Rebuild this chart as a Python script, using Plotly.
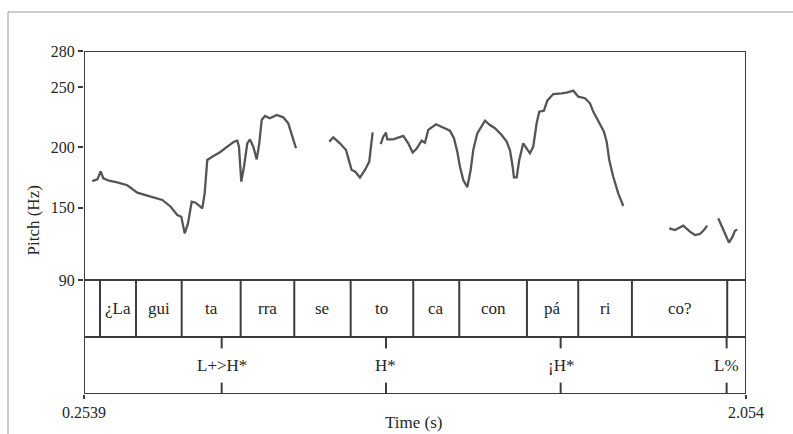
import plotly.graph_objects as go

# ---------------- data ----------------
seg1_t = [0.2765, 0.2901, 0.2993, 0.3064, 0.3219, 0.3444, 0.3716, 0.3988, 0.4353, 0.4668,
          0.4896, 0.5076, 0.5185, 0.5277, 0.5367, 0.5467, 0.5576, 0.5756, 0.5821, 0.5891,
          0.6027, 0.6256, 0.6435, 0.6617, 0.6707, 0.6753, 0.6816, 0.6889, 0.6979, 0.7052,
          0.7142, 0.7235, 0.7305, 0.7371, 0.7460, 0.7596, 0.7778, 0.7958, 0.8094, 0.8186, 0.8303]
seg1_hz = [172.1, 173.5, 180.0, 174.4, 172.4, 171.0, 168.6, 162.5, 159.1, 156.4,
           150.8, 143.9, 142.5, 128.7, 137.0, 155.0, 154.1, 149.5, 162.0, 189.6,
           192.3, 196.4, 200.6, 204.7, 205.6, 200.6, 171.6, 184.0, 203.4, 206.7,
           200.6, 190.1, 203.4, 222.8, 226.1, 224.2, 226.9, 225.0, 220.0, 211.7, 199.3]

seg2_t = [0.9209, 0.9317, 0.9499, 0.9663, 0.9752, 0.9817, 0.9907, 1.0043, 1.0179, 1.0296, 1.0342, 1.0388]
seg2_hz = [204.8, 208.4, 203.4, 197.9, 188.2, 181.3, 180.0, 175.0, 181.3, 188.2, 200.6, 212.5]

seg3_t = [1.0606, 1.0677, 1.0750, 1.0785, 1.0949, 1.1131, 1.1220, 1.1356, 1.1476, 1.1585,
          1.1721, 1.1810, 1.1900, 1.2110, 1.2265, 1.2490, 1.2599, 1.2689, 1.2762, 1.2852,
          1.2961, 1.3053, 1.3124, 1.3233, 1.3442, 1.3578, 1.3714, 1.3896, 1.4032, 1.4122,
          1.4195, 1.4230, 1.4304, 1.4374, 1.4483, 1.4576, 1.4665, 1.4755, 1.4847, 1.4918,
          1.5046, 1.5136, 1.5299, 1.5527, 1.5663, 1.5843, 1.5979, 1.6161, 1.6297, 1.6386,
          1.6522, 1.6677, 1.6751, 1.6821, 1.6930, 1.7066, 1.7202]
seg3_hz = [202.8, 208.9, 212.2, 206.7, 206.7, 208.9, 209.5, 203.4, 195.8, 199.0,
           205.6, 203.9, 214.5, 219.2, 217.2, 213.9, 207.6, 196.5, 184.0, 173.0,
           166.9, 181.3, 197.9, 211.7, 222.2, 218.6, 215.9, 210.3, 204.8, 197.9,
           184.0, 175.2, 175.2, 189.6, 203.4, 199.3, 195.1, 200.6, 220.0, 229.7,
           230.5, 238.8, 244.3, 244.9, 245.5, 247.1, 242.1, 240.8, 236.6, 229.7,
           221.4, 213.1, 204.8, 189.6, 175.7, 161.9, 151.4]

seg4_t = [1.8453, 1.8608, 1.8833, 1.9016, 1.9152, 1.9287, 1.9396, 1.9486]
seg4_hz = [132.9, 131.5, 135.1, 130.1, 127.3, 128.2, 131.5, 135.1]

seg5_t = [1.9785, 1.9877, 1.9986, 2.0076, 2.0176, 2.0239, 2.0302]
seg5_hz = [141.2, 134.2, 127.3, 121.0, 125.9, 130.9, 132.0]

t_start, t_end = 0.2539, 2.054
pitch_min, pitch_max = 90, 280
pitch_ticks = [90, 150, 200, 250, 280]

syllable_bounds = [0.2974, 0.3953, 0.5195, 0.6799, 0.8257, 0.9790, 1.1492,
                   1.2743, 1.4584, 1.5978, 1.7438, 2.0029]
syllable_labels = ["¿La", "gui", "ta", "rra", "se", "to", "ca", "con", "pá", "ri", "co?"]

tone_times = [0.6283, 1.0750, 1.5500, 2.0013]
tone_labels = ["L+>H*", "H*", "¡H*", "L%"]

# ---------------- figure ----------------
FONT = "Liberation Serif"
TXT = "#262626"
LINE = "#3c3c3c"
W, H = 793, 434

def py(p):  # pixel y -> paper y
    return (H - p) / H

xs, ys = [], []
for t, h in [(seg1_t, seg1_hz), (seg2_t, seg2_hz), (seg3_t, seg3_hz), (seg4_t, seg4_hz), (seg5_t, seg5_hz)]:
    xs += t + [None]
    ys += h + [None]

fig = go.Figure()
fig.add_trace(go.Scatter(x=xs, y=ys, mode="lines", xaxis="x", yaxis="y",
                         line=dict(color="#555555", width=2.3), connectgaps=False,
                         hoverinfo="skip", showlegend=False))

shapes = []
# outer light frame
shapes.append(dict(type="rect", xref="paper", yref="paper", x0=8 / W, x1=1.05, y0=-0.2, y1=py(12),
                   line=dict(color="#9a9a9a", width=1), layer="below"))
# pitch box
shapes.append(dict(type="rect", xref="x", yref="y", x0=t_start, x1=t_end, y0=pitch_min, y1=pitch_max,
                   line=dict(color=LINE, width=2)))
# tiers
shapes.append(dict(type="rect", xref="x", yref="y2", x0=t_start, x1=t_end, y0=1, y1=2,
                   line=dict(color=LINE, width=2)))
shapes.append(dict(type="rect", xref="x", yref="y2", x0=t_start, x1=t_end, y0=0, y1=1,
                   line=dict(color=LINE, width=2)))
for b in syllable_bounds:
    shapes.append(dict(type="line", xref="x", yref="y2", x0=b, x1=b, y0=1, y1=2,
                       line=dict(color=LINE, width=2)))
for t in tone_times:
    shapes.append(dict(type="line", xref="x", yref="y2", x0=t, x1=t, y0=0.8, y1=1,
                       line=dict(color=LINE, width=2)))
    shapes.append(dict(type="line", xref="x", yref="y2", x0=t, x1=t, y0=0, y1=0.2,
                       line=dict(color=LINE, width=2)))

annotations = []
for i, lab in enumerate(syllable_labels):
    annotations.append(dict(x=(syllable_bounds[i] + syllable_bounds[i + 1]) / 2, y=1.5,
                            xref="x", yref="y2", text=lab, showarrow=False,
                            font=dict(family=FONT, size=17, color=TXT)))
for t, lab in zip(tone_times, tone_labels):
    annotations.append(dict(x=t, y=0.5, xref="x", yref="y2", text=lab, showarrow=False,
                            font=dict(family=FONT, size=17, color=TXT)))
annotations.append(dict(x=22 / W, y=py(221), xref="paper", yref="paper", text="Pitch (Hz)",
                        textangle=-90, showarrow=False, font=dict(family=FONT, size=17, color=TXT)))
annotations.append(dict(x=414 / W, y=py(434), xref="paper", yref="paper", text="Time (s)",
                        yanchor="bottom", showarrow=False, font=dict(family=FONT, size=17, color=TXT)))

fig.update_layout(
    width=W, height=H,
    margin=dict(l=0, r=0, t=0, b=0, pad=0, autoexpand=False),
    paper_bgcolor="white", plot_bgcolor="white",
    showlegend=False,
    xaxis=dict(domain=[84 / W, 746 / W], range=[t_start, t_end], anchor="y2", automargin=False,
               tickvals=[t_start, t_end], ticktext=["0.2539", "2.054"],
               ticks="outside", ticklen=4, tickwidth=1.5, tickcolor=LINE,
               showgrid=False, zeroline=False, showline=False,
               tickfont=dict(family=FONT, size=16, color=TXT)),
    yaxis=dict(domain=[py(280), py(51)], range=[pitch_min, pitch_max], anchor="x", automargin=False,
               tickvals=pitch_ticks, ticks="outside", ticklen=5, tickwidth=1.5, tickcolor=LINE,
               showgrid=False, zeroline=False, showline=False,
               tickfont=dict(family=FONT, size=16, color=TXT)),
    yaxis2=dict(domain=[py(394), py(280)], range=[0, 2], anchor="x", automargin=False,
                showticklabels=False, showgrid=False, zeroline=False, showline=False, ticks=""),
    shapes=shapes,
    annotations=annotations,
)

fig.write_html("out.html", config={"displayModeBar": False},
               post_script="document.body.style.margin='0';document.body.style.padding='0';")
